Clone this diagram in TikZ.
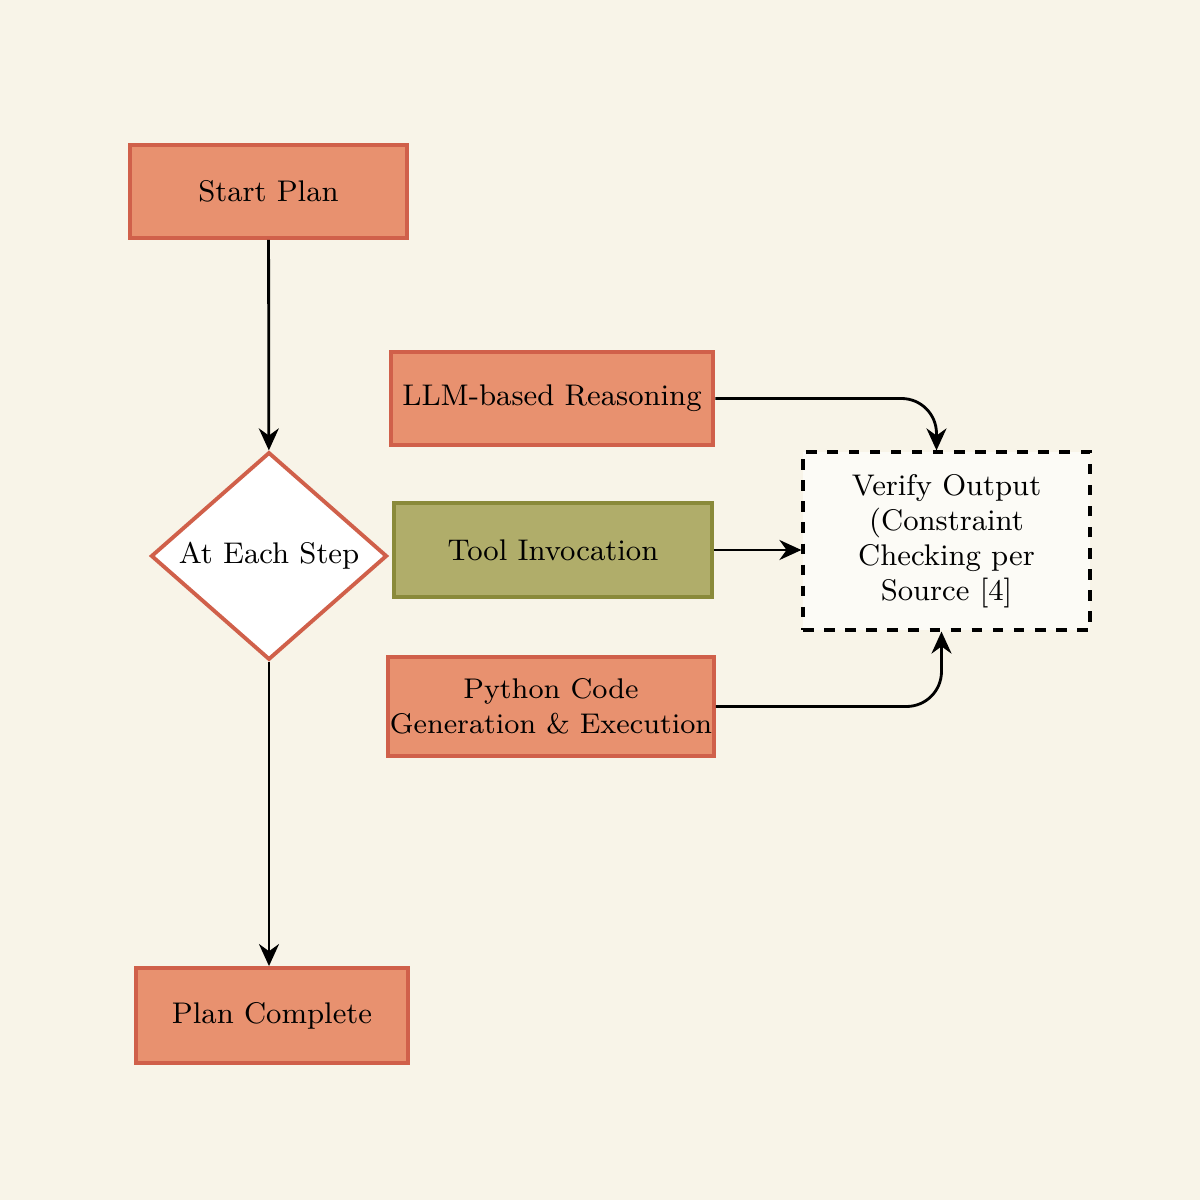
\documentclass[tikz,border=0pt]{standalone}
\usetikzlibrary{shapes.geometric,arrows.meta}
\definecolor{bg}{HTML}{F8F4E8}
\definecolor{boxfill}{HTML}{E8916F}
\definecolor{boxline}{HTML}{D0604A}
\definecolor{olivefill}{HTML}{B0AD6A}
\definecolor{oliveline}{HTML}{8A8A3A}
\tikzset{
  planbox/.style={rectangle, draw=boxline, fill=boxfill, line width=1.1pt, text centered, align=center, font=\fontsize{8.5}{10}\selectfont},
  flow/.style={-{Stealth[length=2.2mm,width=2mm]}, line width=0.8pt}
}
\begin{document}
\begin{tikzpicture}
  \fill[bg] (0,0) rectangle (12,12);
  \useasboundingbox (0,0) rectangle (12,12);

  % Main column
  \node (start) [planbox, minimum width=2.77cm, minimum height=0.93cm] at (2.685,10.085) {Start Plan};
  \node (each) [diamond, draw=boxline, fill=white, line width=1.1pt, inner sep=0pt, minimum width=2.36cm, minimum height=2cm, font=\fontsize{8.5}{10}\selectfont] at (2.69,6.44) {At Each Step};
  \node (done) [planbox, minimum width=2.72cm, minimum height=0.95cm] at (2.72,1.845) {Plan Complete};

  % Options per step
  \node (llm) [planbox, minimum width=3.2cm, minimum height=0.93cm] at (5.52,8.015) {LLM-based Reasoning};
  \node (tool) [planbox, draw=oliveline, fill=olivefill, minimum width=3.18cm, minimum height=0.94cm] at (5.53,6.5) {Tool Invocation};
  \node (python) [planbox, minimum width=3.2cm, minimum height=0.99cm, inner sep=0.5pt, font=\fontsize{8.1}{10}\selectfont] at (5.51,4.935) {Python Code\\Generation \& Execution};

  % Verification
  \node (verify) [rectangle, draw, dashed, line width=0.9pt, fill=white!60!bg, minimum width=2.87cm, minimum height=1.78cm, align=center, font=\fontsize{8.5}{10}\selectfont] at (9.465,6.59) {Verify Output\\(Constraint\\Checking per\\Source [4]};

  % Arrows
  \draw[flow] (start) -- (each);
  \draw[flow] (each.south) -- (each.south |- done.north);
  \draw[flow, rounded corners=0.35cm] (llm.east) -| ([xshift=-0.1cm]verify.north);
  \draw[flow] (tool) -- (tool.east -| verify.west);
  \draw[flow, rounded corners=0.35cm] (python.east) -| ([xshift=-0.05cm]verify.south);
\end{tikzpicture}
\end{document}
